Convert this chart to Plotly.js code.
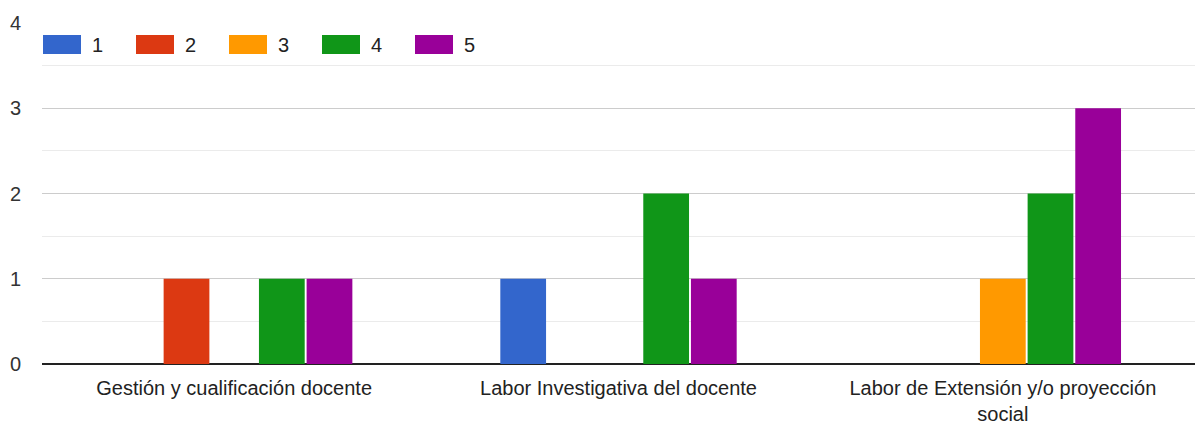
<!DOCTYPE html>
<html>
<head>
<meta charset="utf-8">
<script src="https://cdn.plot.ly/plotly-3.0.1.min.js"></script>
<style>html,body{margin:0;padding:0;background:#fff;}#chart{width:1195px;height:426px;}</style>
</head>
<body>
<div id="chart"></div>
<script>
const categories = ["Gestión y cualificación docente", "Labor Investigativa del docente", "Labor de Extensión y/o proyección<br>social"];
const seriesNames = ["1", "2", "3", "4", "5"];
const s1 = [0, 1, 0];
const s2 = [1, 0, 0];
const s3 = [0, 0, 1];
const s4 = [1, 2, 2];
const s5 = [1, 1, 3];
const yTicks = [0, 1, 2, 3, 4];
const colors = ["#3366cc", "#dc3912", "#ff9900", "#109618", "#990099"];

const values = [s1, s2, s3, s4, s5];
const data = values.map((v, i) => ({
  type: "bar",
  x: categories,
  y: v,
  name: seriesNames[i],
  marker: {color: colors[i], line: {width: 0}},
  showlegend: false,
  hoverinfo: "none"
}));

const FONT = "Liberation Sans, Arial, sans-serif";
const shapes = [];
const annotations = [];
seriesNames.forEach((n, i) => {
  shapes.push({
    type: "rect", xref: "paper", yref: "paper",
    xsizemode: "pixel", ysizemode: "pixel",
    xanchor: 0, yanchor: 1,
    x0: 1 + i * 93, x1: 39 + i * 93,
    y0: -12, y1: -31,
    fillcolor: colors[i], line: {width: 0}
  });
  annotations.push({
    xref: "paper", yref: "paper", x: 0, y: 1,
    xanchor: "left", yanchor: "middle",
    xshift: 48 + i * 93, yshift: -22,
    text: n, showarrow: false,
    font: {family: FONT, size: 20, color: "#222"}
  });
});

const layout = {
  width: 1195, height: 426,
  margin: {l: 42, r: 0, t: 23, b: 62},
  paper_bgcolor: "#fff", plot_bgcolor: "#fff",
  barmode: "group",
  bargap: 0.38,
  bargroupgap: 0.04,
  font: {family: FONT, size: 20, color: "#222"},
  xaxis: {
    showgrid: false, showline: false, zeroline: false,
    ticks: "", ticklabelstandoff: 10,
    tickfont: {family: FONT, size: 20, color: "#222"},
    automargin: false
  },
  yaxis: {
    range: [0, 4], tickvals: yTicks, ticktext: yTicks.map(String),
    showgrid: true, gridcolor: "#cccccc", gridwidth: 1,
    minor: {dtick: 0.5, showgrid: true, gridcolor: "#ebebeb", gridwidth: 1, ticks: ""},
    zeroline: true, zerolinecolor: "#222", zerolinewidth: 2,
    ticks: "", ticklabelstandoff: 20,
    tickfont: {family: FONT, size: 20, color: "#333"},
    automargin: false, fixedrange: true
  },
  shapes: shapes,
  annotations: annotations,
  showlegend: false
};

Plotly.newPlot("chart", data, layout, {displayModeBar: false, staticPlot: true});
</script>
</body>
</html>
